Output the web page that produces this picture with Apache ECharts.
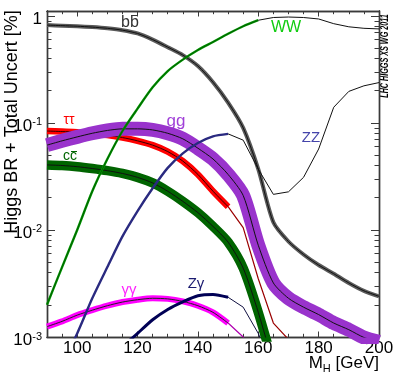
<!DOCTYPE html>
<html>
<head>
<meta charset="utf-8">
<script src="https://cdn.jsdelivr.net/npm/echarts@6/dist/echarts.min.js"></script>
<style>
  html, body { margin: 0; padding: 0; background: #fff; }
  #main { width: 399px; height: 383px; }
</style>
</head>
<body>
<div id="main"></div>
<script>
// Higgs mass points (GeV)
var mass = [90, 95, 100, 105, 110, 115, 120, 125, 130, 135, 140, 145, 150, 155, 160, 165, 170, 175, 180, 185, 190, 195, 200];

// branching ratios (null = not drawn)
var bb = [0.82, 0.81, 0.80, 0.785, 0.765, 0.735, 0.685, 0.60, 0.51, 0.43, 0.34, 0.24, 0.155, 0.09, 0.037, 0.0118, 0.0078, 0.0059, 0.0047, 0.0039, 0.0032, 0.0027, 0.0024];
var tautau = [0.084, 0.083, 0.082, 0.079, 0.077, 0.073, 0.068, 0.062, 0.054, 0.044, 0.033, 0.023, 0.0165, 0.0105, 0.0035, 0.00135, 0.00095];
var gg = [0.062, 0.068, 0.074, 0.080, 0.085, 0.088, 0.088, 0.086, 0.080, 0.071, 0.058, 0.046, 0.033, 0.021, 0.0072, 0.0032, 0.0023, 0.0019, 0.00162, 0.00135, 0.00117, 0.00099, 0.00090];
var cc = [0.0405, 0.040, 0.039, 0.0375, 0.0358, 0.0337, 0.031, 0.0275, 0.023, 0.0185, 0.0145, 0.0108, 0.0077, 0.0044, 0.0017, 0.00055];
var gamgam = [0.00125, 0.0014, 0.0016, 0.00178, 0.00196, 0.00212, 0.00223, 0.0023, 0.00227, 0.00215, 0.00196, 0.0017, 0.00135, 0.0010, 0.00053];
var zgam = [null, null, null, null, 0.00047, 0.0008, 0.00108, 0.00145, 0.00181, 0.00213, 0.00243, 0.0025, 0.00235, 0.0019, 0.00108, 0.0005];
var ww = [0.0020, 0.0045, 0.0100, 0.023, 0.046, 0.084, 0.136, 0.215, 0.305, 0.39, 0.48, 0.57, 0.68, 0.80, 0.91, 0.965, 0.975, 0.965, 0.935, 0.845, 0.79, 0.765, 0.755];
var zz = [0.00035, 0.00058, 0.00108, 0.0023, 0.0045, 0.0087, 0.0150, 0.0245, 0.038, 0.052, 0.065, 0.075, 0.079, 0.069, 0.037, 0.0215, 0.0227, 0.031, 0.057, 0.14, 0.197, 0.222, 0.238];

// axis ticks
var xMajor = [100, 120, 140, 160, 180, 200];
var xMinor = [90, 95, 105, 110, 115, 125, 130, 135, 145, 150, 155, 165, 170, 175, 185, 190, 195];
var yMajor = [0.001, 0.01, 0.1, 1];
var yMinor = [];
[0.001, 0.01, 0.1].forEach(function (d) {
  for (var k = 2; k <= 9; k++) yMinor.push(+(k * d).toPrecision(3));
});

var font = '"Liberation Sans", Arial, Helvetica, sans-serif';
var frame = '#3a3a3a';

function pts(arr, from, to) {
  var out = [];
  for (var i = 0; i < arr.length; i++) {
    if (arr[i] == null) continue;
    if (mass[i] >= from && mass[i] <= to) out.push([mass[i], arr[i]]);
  }
  return out;
}

function line(data, color, width, z, smooth) {
  return {
    type: 'line', data: data, symbol: 'none', silent: true, clip: true,
    smooth: smooth ? 0.25 : false, z: z,
    lineStyle: { color: color, width: width, cap: 'butt', join: 'round' }
  };
}

function xAx(pos, ticks, len, labels) {
  return {
    type: 'value', min: 90, max: 200, position: pos,
    axisLine: { show: true, onZero: false, lineStyle: { color: frame, width: 1.4 } },
    axisTick: { show: true, inside: true, length: len, customValues: ticks, lineStyle: { color: frame, width: 1 } },
    axisLabel: { show: labels, customValues: ticks, margin: 3, color: '#000', fontSize: 17, fontFamily: font },
    splitLine: { show: false }
  };
}

function yAx(pos, ticks, len, labels) {
  return {
    type: 'log', logBase: 10, min: 0.001, max: 1.11, position: pos,
    axisLine: { show: true, onZero: false, lineStyle: { color: frame, width: 1.4 } },
    axisTick: { show: true, inside: true, length: len, customValues: ticks, lineStyle: { color: frame, width: 1 } },
    axisLabel: {
      show: labels, customValues: ticks, margin: 5,
      formatter: function (v) {
        if (v >= 0.99) return '{b|1}';
        return '{b|10}{s|' + Math.round(Math.log10(v)) + '}';
      },
      rich: {
        b: { fontSize: 17, fontFamily: font, color: '#000', lineHeight: 22, padding: [6, 0, 0, 0] },
        s: { fontSize: 11, fontFamily: font, color: '#000', verticalAlign: 'top', padding: [5, 0, 0, 0] }
      }
    },
    splitLine: { show: false }
  };
}

var series = [
  // bb
  line(pts(bb, 90, 200), '#5a5a5a', 4, 2, true),
  line(pts(bb, 90, 200), '#111', 1, 3, true),
  // tau tau
  line(pts(tautau, 90, 150), '#ff0000', 6.5, 4, true),
  line(pts(tautau, 90, 150), '#300000', 1, 5, true),
  line(pts(tautau, 150, 200), '#9a0000', 1.2, 5, false),
  // gg
  line(pts(gg, 90, 200), '#9933cc', 14, 6, true),
  line(pts(gg, 90, 200), '#111', 1, 7, true),
  // cc
  line(pts(cc, 90, 200), '#006400', 9.5, 8, true),
  line(pts(cc, 90, 200), '#111', 1, 9, true),
  // gamma gamma
  line(pts(gamgam, 90, 150), '#ff00ff', 6, 10, true),
  line(pts(gamgam, 90, 150), '#222', 1, 11, true),
  line(pts(gamgam, 150, 200), '#b000b0', 1.2, 11, false),
  // Z gamma
  line(pts(zgam, 90, 150), '#000055', 3, 12, true),
  line(pts(zgam, 150, 200), '#101040', 1, 12, false),
  // ZZ
  line(pts(zz, 90, 150), '#2a2a80', 2.4, 13, true),
  line(pts(zz, 150, 200), '#111', 1, 13, false),
  // WW
  line(pts(ww, 90, 160), '#009900', 2.4, 14, true),
  line(pts(ww, 90, 160), '#003300', 0.6, 15, true),
  line(pts(ww, 160, 200), '#111', 1, 15, false)
];

function tag(text, x, y, color, size, bar) {
  var g = {
    type: 'group', x: x, y: y, silent: true, z: 100,
    children: [{
      type: 'text', x: 0, y: 0,
      style: { text: text, fill: color, font: size + 'px ' + font, textAlign: 'center', textVerticalAlign: 'middle' }
    }]
  };
  if (bar) {
    g.children.push({
      type: 'line', shape: { x1: bar[0], y1: bar[2], x2: bar[1], y2: bar[2] },
      style: { stroke: color, lineWidth: 1 }
    });
  }
  return g;
}

var graphics = [
  tag('bb', 130, 23, '#333333', 16, [1, 8, -7.5]),
  tag('\u03c4\u03c4', 69, 120, '#ff0000', 14),
  tag('gg', 176, 121, '#a040d8', 17),
  tag('cc', 70, 156, '#006600', 14, [1, 7, -4.5]),
  tag('WW', 286, 28, '#11cc11', 16),
  tag('ZZ', 311, 138, '#4444aa', 15),
  tag('\u03b3\u03b3', 129, 290, '#ff22ff', 15),
  tag('Z\u03b3', 196, 284, '#1a1a70', 15),
  {
    type: 'text', x: 12, y: 122, rotation: Math.PI / 2, silent: true,
    style: { text: 'Higgs BR + Total Uncert [%]', fill: '#000', font: '18px ' + font, textAlign: 'center', textVerticalAlign: 'middle' }
  },
  {
    type: 'text', x: 385, y: 56, rotation: Math.PI / 2, scaleX: 0.72, silent: true,
    style: { text: 'LHC HIGGS XS WG 2011', fill: '#000', font: 'italic bold 10px ' + font, textAlign: 'center', textVerticalAlign: 'middle' }
  },
  {
    type: 'text', x: 379, y: 363, silent: true,
    style: {
      text: '{a|M}{h|H}{a| [GeV]}', textAlign: 'right', textVerticalAlign: 'middle',
      rich: {
        a: { fontSize: 17, fontFamily: font, fill: '#000', lineHeight: 22 },
        h: { fontSize: 11, fontFamily: font, fill: '#000', verticalAlign: 'bottom' }
      }
    }
  }
];

var option = {
  animation: false,
  backgroundColor: '#fff',
  grid: { left: 47, right: 20, top: 11, bottom: 46 },
  xAxis: [
    xAx('bottom', xMajor, 5.5, true),
    xAx('bottom', xMinor, 3.2, false),
    xAx('top', xMajor, 5.5, false),
    xAx('top', xMinor, 3.2, false)
  ],
  yAxis: [
    yAx('left', yMajor, 8, true),
    yAx('left', yMinor, 4.5, false),
    yAx('right', yMajor, 8, false),
    yAx('right', yMinor, 4.5, false)
  ],
  series: series,
  graphic: graphics
};

var myChart = echarts.init(document.getElementById('main'));
myChart.setOption(option);
</script>
</body>
</html>
